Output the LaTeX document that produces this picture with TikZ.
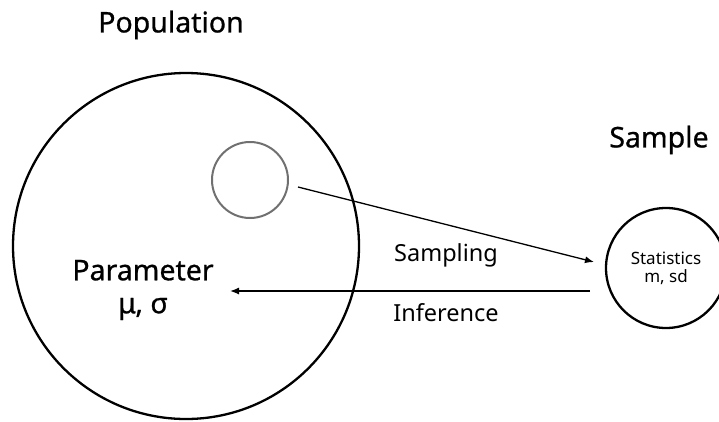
\documentclass[tikz,border=0pt]{standalone}
\usepackage{fontspec}
\setmainfont{Noto Sans}
\newfontfamily\medfont[FakeBold=0.8]{Noto Sans}
\usetikzlibrary{arrows.meta}
\begin{document}
\begin{tikzpicture}[x=1pt,y=-1pt,
  bigtitle/.style={font=\medfont\fontsize{28.5}{32}\selectfont, inner sep=0pt},
  lbl/.style={font=\fontsize{23.5}{27}\selectfont, inner sep=0pt},
  ring/.style={circle, draw=black, line width=2.3pt, inner sep=0pt},
  conn/.style={line width=1.3pt, -{Latex[length=9pt,width=7pt]}}]
\useasboundingbox (0,0) rectangle (719,421);
\node[ring, minimum size=346pt] (pop) at (186,246) {};
\node[circle, draw={rgb,255:red,112;green,112;blue,112}, line width=2pt, minimum size=76pt, inner sep=0pt] (sub) at (250,180) {};
\node[ring, minimum size=120pt, align=center, font=\fontsize{17}{20}\selectfont] (samp) at (666,268) {Statistics\\[-2pt]m, sd};
\node[bigtitle] (ptitle) at (171,25) {Population};
\node[bigtitle] (stitle) at (659,140) {Sample};
\node[bigtitle, align=center] (param) at (143,290) {Parameter\\[1pt]μ, σ};
\node[lbl] (slab) at (446,255) {Sampling};
\node[lbl] (ilab) at (446,313) {Inference};
\coordinate (s0) at (298,187);
\coordinate (s1) at (594,262);
\coordinate (i0) at (590,291);
\coordinate (i1) at (230,291);
\draw[conn] (s0) -- (s1);
\draw[conn] (i0) -- (i1);
\end{tikzpicture}
\end{document}
